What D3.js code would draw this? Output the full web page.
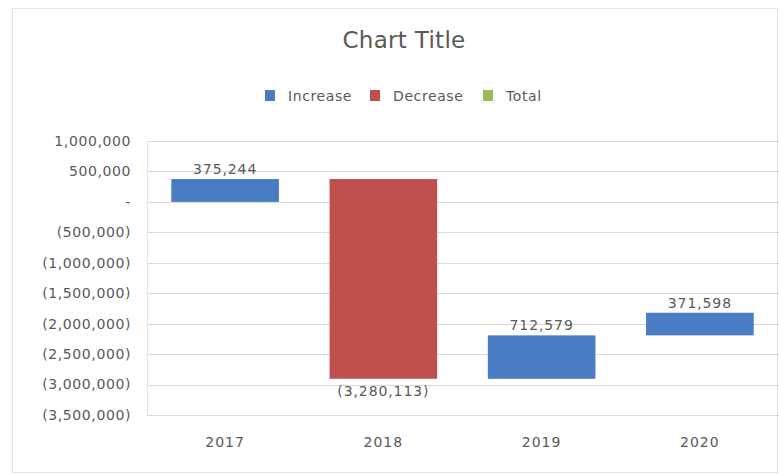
<!DOCTYPE html>
<html>
<head>
<meta charset="utf-8">
<script src="https://cdn.jsdelivr.net/npm/d3@7"></script>
<style>
  body { margin: 0; background: #fff; }
  svg text { font-family: "DejaVu Sans", sans-serif; fill: #595959; }
</style>
</head>
<body>
<svg id="chart" width="779" height="475"></svg>
<script>
// data
var years = ["2017", "2018", "2019", "2020"];
var changes = [375244, -3280113, 712579, 371598];
var yTicks = [1000000, 500000, 0, -500000, -1000000, -1500000, -2000000, -2500000, -3000000, -3500000];
var legendNames = ["Increase", "Decrease", "Total"];
var legendColors = ["#4a7cc4", "#c0504d", "#9bbb59"];

let svg = d3.select("#chart");

// frame of the chart
svg.append("rect")
    .attr("x", 12.5).attr("y", 8.5)
    .attr("width", 765).attr("height", 464)
    .attr("fill", "#fff")
    .attr("stroke", "#e3e3e3");

let x = d3.scaleBand().domain(years).range([146, 779]).paddingInner(0.32).paddingOuter(0.16);
let y = d3.scaleLinear().domain([-3500000, 1000000]).range([415, 141]);

// waterfall steps
let running = 0;
let steps = changes.map(function (v, i) {
    let start = running;
    running = running + v;
    return { year: years[i], value: v, start: start, end: running };
});

// format like excel accounting
function fmt(v) {
    if (v == 0) return "-";
    let s = d3.format(",")(Math.abs(v));
    return v < 0 ? "(" + s + ")" : s;
}

// TITLE
svg.append("text")
    .text("Chart Title")
    .attr("x", 404).attr("y", 48)
    .attr("text-anchor", "middle")
    .attr("font-size", "23px")
    .attr("letter-spacing", "0.3px");

// LEGEND
let legendX = [265, 370, 483];
legendNames.forEach(function (n, i) {
    let g = svg.append("g").attr("transform", "translate(" + legendX[i] + ",90)");
    g.append("rect").attr("width", 10).attr("height", 11).attr("fill", legendColors[i]);
    g.append("text").text(n)
        .attr("x", 23).attr("y", 10.5)
        .attr("font-size", "14px")
        .attr("letter-spacing", "0.6px");
});

// GRIDLINES + Y LABELS
svg.append("g").selectAll("line")
    .data(yTicks)
    .join("line")
    .attr("x1", 147).attr("x2", 779)
    .attr("y1", d => Math.round(y(d)) + 0.5)
    .attr("y2", d => Math.round(y(d)) + 0.5)
    .attr("stroke", "#d9d9d9");

svg.append("line")
    .attr("x1", 147.5).attr("x2", 147.5)
    .attr("y1", y(1000000)).attr("y2", y(-3500000))
    .attr("stroke", "#e6e6e6");

svg.append("g").selectAll("text")
    .data(yTicks)
    .join("text")
    .text(d => fmt(d))
    .attr("x", 131)
    .attr("y", d => y(d))
    .attr("dy", "0.35em")
    .attr("text-anchor", "end")
    .attr("font-size", "14px")
    .attr("letter-spacing", "0.6px");

// BARS
svg.append("g").selectAll("rect")
    .data(steps)
    .join("rect")
    .attr("x", d => x(d.year))
    .attr("width", x.bandwidth())
    .attr("y", d => y(Math.max(d.start, d.end)))
    .attr("height", d => Math.abs(y(d.start) - y(d.end)))
    .attr("fill", d => d.value >= 0 ? legendColors[0] : legendColors[1]);

// DATA LABELS
svg.append("g").selectAll("text")
    .data(steps)
    .join("text")
    .text(d => fmt(d.value))
    .attr("x", d => x(d.year) + x.bandwidth() / 2)
    .attr("y", d => d.value >= 0 ? y(d.end) - 10 : y(d.end) + 12)
    .attr("dy", "0.35em")
    .attr("text-anchor", "middle")
    .attr("font-size", "14px")
    .attr("letter-spacing", "0.9px");

// X LABELS
svg.append("g").selectAll("text")
    .data(years)
    .join("text")
    .text(d => d)
    .attr("x", d => x(d) + x.bandwidth() / 2)
    .attr("y", 442)
    .attr("dy", "0.35em")
    .attr("text-anchor", "middle")
    .attr("font-size", "14px")
    .attr("letter-spacing", "1px");
</script>
</body>
</html>
